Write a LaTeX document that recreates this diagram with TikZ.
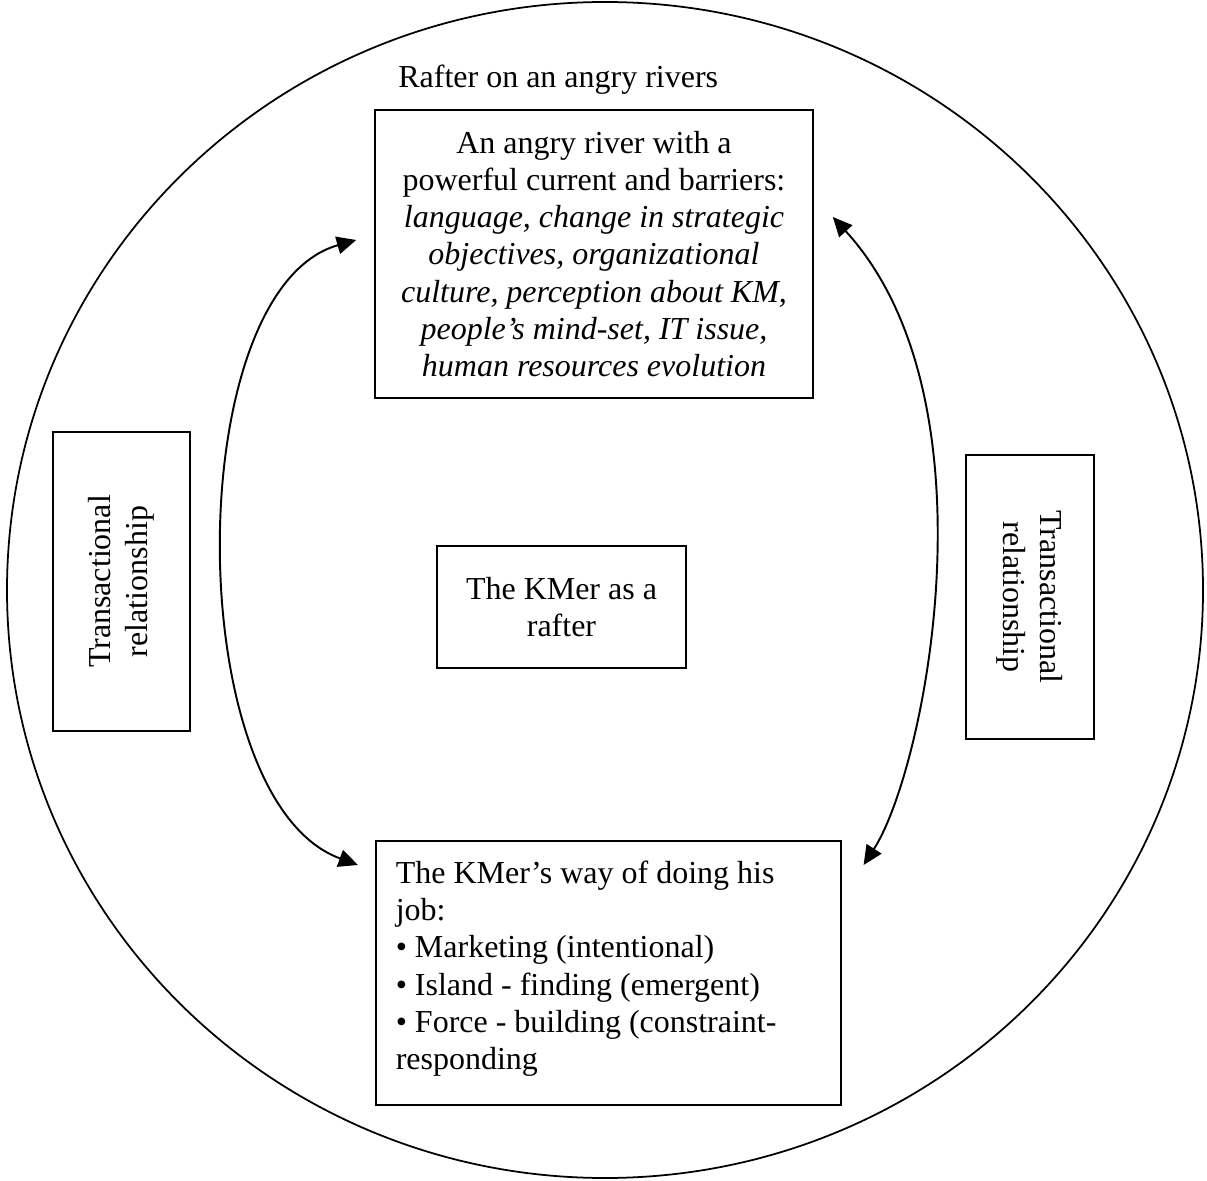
\documentclass[tikz,border=0pt]{standalone}
\usepackage{fontspec}
\setmainfont{Liberation Serif}
\usetikzlibrary{arrows.meta}
\begin{document}
\begin{tikzpicture}[box/.style={draw,line width=0.9pt},
  link/.style={{Triangle[length=11pt,width=10pt]}-{Triangle[length=11pt,width=10pt]},line width=1.1pt},
  font=\fontsize{18.2}{21.2}\selectfont]
\useasboundingbox (0,0) rectangle (24.14,23.6);
\draw[line width=1pt] (12.1,11.8) ellipse (11.96 and 11.76);
\node[anchor=base west,inner sep=0pt] (title) at (7.96,21.84) {Rafter on an angry rivers};
\node[box,minimum width=8.76cm,minimum height=5.76cm,align=center] (river) at (11.88,18.52)
  {An angry river with a\\ powerful current and barriers:\\
   \textit{language, change in strategic}\\ \textit{objectives, organizational}\\
   \textit{culture, perception about KM,}\\ \textit{people’s mind-set, IT issue,}\\
   \textit{human resources evolution}};
\node[box,minimum width=4.98cm,minimum height=2.44cm,align=center] (rafter) at (11.23,11.46)
  {The KMer as a\\ rafter};
\node[box,rotate=90,minimum width=5.98cm,minimum height=2.74cm,align=center] (transl) at (2.43,11.97)
  {Transactional\\ relationship};
\node[box,rotate=-90,minimum width=5.68cm,minimum height=2.56cm,align=center] (transr) at (20.6,11.66)
  {Transactional\\ relationship};
\node[box,anchor=north west,inner xsep=0.4cm,inner ysep=0.4cm] (job) at (7.5,6.8)
  {\parbox[t][4.48cm][t]{8.5cm}{\raggedright The KMer’s way of doing his\\ job:\\
   • Marketing (intentional)\\ • Island - finding (emergent)\\
   • Force - building (constraint-\\ responding}};
% the two transactions
\draw[link] ([xshift=-0.36cm,yshift=0.28cm]river.west) .. controls (3.6,17.8) and (3.6,7.6) .. ([xshift=-0.34cm,yshift=-0.5cm]job.north west);
\draw[link] ([xshift=0.38cm,yshift=0.74cm]river.east) .. controls (20,15.6) and (18.5,8.2) .. ([xshift=0.44cm,yshift=-0.5cm]job.north east);
\end{tikzpicture}
\end{document}
